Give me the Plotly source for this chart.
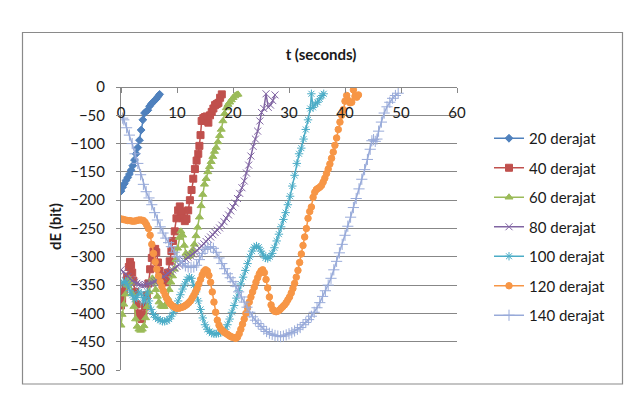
import plotly.graph_objects as go

# ---------------- data ----------------
t20 = [0, 0.3, 0.6, 0.9, 1.2, 1.5, 1.8, 2.1, 2.4, 2.7, 3.0, 3.3, 3.6, 3.9, 4.2, 4.5, 4.8, 5.1, 5.4, 5.7, 6.0, 6.3, 6.6, 6.9]
e20 = [-184, -177, -171, -165, -160, -154, -147, -139, -129, -118, -107, -94, -76, -58, -46, -43, -41, -34, -30, -27, -24, -21, -17, -13]

t40 = [0, 0.2, 0.5, 0.8, 1.1, 1.4, 1.6, 1.8, 2.0, 2.2, 2.5, 2.8, 3.1, 3.4, 3.7, 4.0, 4.3, 4.6, 4.9, 5.2, 5.5, 5.8,
       6.1, 6.3, 6.6, 6.9, 7.2, 7.5, 7.8, 8.1, 8.4, 8.7, 9.0, 9.3, 9.6, 9.9, 10.2, 10.5, 10.8, 11.1, 11.4, 11.7,
       12.0, 12.3, 12.6, 12.9, 13.2, 13.5, 13.8, 14.0, 14.2, 14.4, 14.7, 15.0, 15.3, 15.6, 15.9, 16.2, 16.5, 16.8,
       17.1, 17.4, 17.7, 18.0]
e40 = [-386, -375, -362, -350, -335, -318, -309, -315, -328, -342, -362, -384, -400, -407, -410, -402, -388, -368,
       -347, -322, -302, -290, -286, -292, -310, -325, -336, -342, -345, -342, -328, -308, -290, -272, -255, -232,
       -218, -211, -220, -232, -237, -233, -218, -200, -182, -162, -145, -130, -118, -104, -85, -60, -55, -53, -52,
       -63, -50, -44, -38, -32, -30, -28, -19, -13]

t60 = [0, 0.2, 0.5, 0.8, 1.1, 1.4, 1.7, 2.0, 2.3, 2.6, 2.9, 3.2, 3.5, 3.8, 4.1, 4.4, 4.7, 5.0, 5.3, 5.6, 5.9, 6.2,
       6.5, 6.8, 7.1, 7.4, 7.7, 8.0, 8.3, 8.6, 8.9, 9.2, 9.5, 9.8, 10.1, 10.4, 10.7, 11.0, 11.3, 11.6, 11.9, 12.2,
       12.5, 12.8, 13.1, 13.4, 13.7, 14.0, 14.3, 14.6, 14.9, 15.2, 15.5, 15.8, 16.1, 16.4, 16.7, 17.0, 17.3, 17.6,
       17.9, 18.2, 18.5, 18.8, 19.1, 19.4, 19.7, 20.0, 20.3, 20.6, 20.9]
e60 = [-421, -402, -384, -366, -350, -338, -345, -365, -388, -410, -423, -428, -430, -428, -422, -408, -388, -362,
       -345, -338, -345, -358, -370, -380, -386, -388, -388, -384, -372, -358, -345, -334, -322, -305, -285, -266,
       -255, -262, -280, -294, -300, -298, -294, -288, -278, -263, -248, -230, -210, -190, -172, -162, -150, -141,
       -132, -123, -114, -107, -97, -86, -75, -60, -47, -37, -31, -27, -23, -19, -16, -14, -13]

t80 = [0.0, 0.4, 0.8, 1.2, 1.6, 2.0, 2.4, 2.8, 3.2, 3.6, 4.0, 4.4, 4.8, 5.2, 5.6, 6.0, 6.4, 6.8, 7.2, 7.6, 8.0,
       8.4, 8.8, 9.2, 9.6, 10.0, 10.4, 10.8, 11.2, 11.6, 12.0, 12.4, 12.8, 13.2, 13.6, 14.0, 14.4, 14.8, 15.2,
       15.6, 16.0, 16.4, 16.8, 17.2, 17.6, 18.0, 18.4, 18.8, 19.2, 19.6, 20.0, 20.4, 20.8, 21.2, 21.6, 22.0, 22.4,
       22.8, 23.2, 23.6, 24.0, 24.4, 24.8, 25.1, 25.5, 25.9, 26.3, 26.7, 27.1, 27.5]
e80 = [-323, -327, -331, -335, -339, -342, -345, -347, -349, -350, -350, -349, -348, -347, -346, -344, -342, -340,
       -338, -335, -332, -329, -326, -323, -320, -317, -314, -311, -307, -304, -301, -298, -295, -292, -289, -285,
       -281, -277, -273, -269, -265, -261, -257, -253, -249, -244, -238, -232, -226, -219, -212, -205, -197, -188,
       -178, -166, -152, -138, -122, -105, -92, -78, -60, -45, -38, -12, -36, -32, -24, -14]

t100 = [0.0, 0.4, 0.8, 1.2, 1.6, 2.0, 2.4, 2.8, 3.2, 3.6, 4.0, 4.4, 4.7, 5.0, 5.4, 5.8, 6.2, 6.6, 7.0, 7.4, 7.8,
        8.2, 8.6, 9.0, 9.4, 9.8, 10.2, 10.6, 11.0, 11.4, 11.8, 12.2, 12.6, 13.0, 13.4, 13.8, 14.2, 14.6, 15.0,
        15.4, 15.8, 16.2, 16.6, 17.0, 17.4, 17.8, 18.2, 18.6, 19.0, 19.4, 19.8, 20.2, 20.6, 21.0, 21.4, 21.8,
        22.2, 22.6, 23.0, 23.4, 23.8, 24.2, 24.6, 25.0, 25.4, 25.8, 26.2, 26.6, 27.0, 27.4, 27.8, 28.2, 28.6,
        29.0, 29.4, 29.8, 30.2, 30.6, 31.0, 31.4, 31.8, 32.2, 32.6, 33.0, 33.4, 33.8, 34.0, 34.3, 34.7, 35.1,
        35.5, 35.9, 36.2]
e100 = [-347, -345, -343, -350, -360, -368, -375, -372, -362, -366, -380, -372, -362, -378, -393, -402, -407, -410,
        -412, -414, -414, -413, -410, -405, -398, -389, -378, -367, -357, -348, -340, -336, -338, -350, -362, -378,
        -393, -408, -420, -428, -432, -435, -436, -436, -435, -434, -432, -428, -420, -410, -398, -386, -373, -360,
        -348, -336, -324, -312, -300, -290, -283, -281, -283, -290, -297, -302, -303, -300, -294, -284, -272, -260,
        -247, -234, -222, -208, -193, -175, -156, -135, -118, -108, -92, -75, -58, -38, -12, -36, -30, -27, -21,
        -15, -12]

t120 = [0.0, 0.4, 0.8, 1.2, 1.6, 2.0, 2.4, 2.8, 3.2, 3.6, 4.0, 4.3, 4.6, 4.9, 5.2, 5.5, 5.8, 6.1, 6.4, 6.7, 7.0,
        7.3, 7.6, 7.9, 8.2, 8.5, 8.8, 9.1, 9.4, 9.7, 10.0, 10.3, 10.6, 10.9, 11.2, 11.5, 11.8, 12.1, 12.4, 12.7,
        13.0, 13.3, 13.6, 13.9, 14.2, 14.5, 14.8, 15.1, 15.4, 15.7, 16.0, 16.3, 16.6, 16.9, 17.2, 17.5, 17.8,
        18.1, 18.4, 18.7, 19.0, 19.3, 19.6, 19.9, 20.2, 20.5, 20.8, 21.1, 21.4, 21.7, 22.0, 22.3, 22.6, 22.9,
        23.2, 23.5, 23.8, 24.1, 24.4, 24.7, 25.0, 25.3, 25.6, 25.9, 26.2, 26.5, 26.8, 27.1, 27.4, 27.7, 28.0,
        28.3, 28.6, 28.9, 29.2, 29.5, 29.8, 30.1, 30.4, 30.7, 31.0, 31.3, 31.6, 31.9, 32.2, 32.5, 32.8, 33.1,
        33.4, 33.7, 34.0, 34.3, 34.6, 34.9, 35.2, 35.5, 35.8, 36.1, 36.4, 36.7, 37.0, 37.3, 37.6, 37.9, 38.2,
        38.5, 38.8, 39.1, 39.4, 39.7, 40.0, 40.3, 40.6, 40.9, 41.2, 41.5, 41.8, 42.1, 42.4]
e120 = [-233, -234, -235, -236, -236, -237, -237, -236, -235, -235, -236, -239, -244, -250, -262, -278, -294, -309,
        -322, -334, -344, -353, -361, -368, -374, -379, -383, -386, -388, -390, -391, -391, -390, -389, -388, -386,
        -384, -381, -378, -373, -368, -362, -356, -348, -340, -332, -326, -323, -325, -333, -345, -362, -380, -398,
        -412, -421, -427, -430, -433, -435, -437, -439, -441, -442, -443, -444, -442, -436, -428, -419, -410, -400,
        -390, -380, -371, -362, -354, -345, -337, -330, -325, -323, -328, -340, -355, -371, -385, -393, -396, -397,
        -396, -394, -391, -388, -385, -381, -376, -371, -364, -356, -347, -336, -324, -310, -295, -280, -265, -250,
        -232, -220, -212, -195, -186, -181, -179, -177, -174, -168, -161, -153, -145, -136, -126, -115, -103, -90,
        -75, -62, -50, -40, -25, -15, -24, -28, -27, -5, -16, -18, -14]

t140 = [0.3, 0.5, 1.0, 1.5, 2.0, 2.5, 3.0, 3.5, 4.0, 4.5, 5.0, 5.5, 6.0, 6.5, 7.0, 7.5, 8.0, 8.5, 9.0, 9.5, 10.0,
        10.5, 11.0, 11.5, 12.0, 12.5, 13.0, 13.5, 14.0, 14.5, 15.0, 15.5, 16.0, 16.5, 17.0, 17.5, 18.0, 18.5,
        19.0, 19.5, 20.0, 20.5, 21.0, 21.5, 22.0, 22.5, 23.0, 23.5, 24.0, 24.5, 25.0, 25.5, 26.0, 26.5, 27.0,
        27.5, 28.0, 28.5, 29.0, 29.5, 30.0, 30.5, 31.0, 31.5, 32.0, 32.5, 33.0, 33.5, 34.0, 34.5, 35.0, 35.5,
        36.0, 36.5, 37.0, 37.5, 38.0, 38.5, 39.0, 39.5, 40.0, 40.5, 41.0, 41.5, 42.0, 42.5, 43.0, 43.5, 44.0,
        44.5, 44.8, 45.1, 45.4, 45.7, 46.0, 46.5, 47.0, 47.5, 48.0, 48.5, 49.0, 49.5]
e140 = [-55, -58, -72, -85, -100, -118, -135, -155, -172, -185, -196, -208, -222, -235, -247, -258, -267, -275,
        -282, -292, -300, -307, -312, -316, -318, -319, -318, -315, -305, -294, -287, -283, -282, -285, -292, -302,
        -312, -321, -330, -337, -344, -352, -362, -371, -380, -389, -398, -406, -412, -418, -423, -428, -432, -435,
        -437, -439, -440, -441, -440, -438, -436, -434, -431, -428, -425, -420, -416, -411, -405, -398, -390, -381,
        -370, -360, -350, -338, -323, -308, -293, -278, -262, -246, -230, -213, -197, -180, -163, -146, -128, -110,
        -95, -93, -96, -92, -78, -62, -46, -35, -27, -20, -15, -11]

names = ["20 derajat", "40 derajat", "60 derajat", "80 derajat", "100 derajat", "120 derajat", "140 derajat"]
times = [t20, t40, t60, t80, t100, t120, t140]
values = [e20, e40, e60, e80, e100, e120, e140]

x_ticks = [0, 10, 20, 30, 40, 50, 60]
y_ticks = [0, -50, -100, -150, -200, -250, -300, -350, -400, -450, -500]

# ---------------- styles ----------------
colors = ["#4F81BD", "#C0504D", "#9BBB59", "#8064A2", "#4BACC6", "#F79646", "#98AAD9"]
symbols = ["diamond", "square", "triangle-up", "x-thin-open", "asterisk-open", "circle", "cross-thin-open"]
msizes = [6, 7, 7, 7, 7, 6.5, 8]

W, H = 640, 411
L, R, T, B = 121, 457, 87, 370          # plot-area pixel box
PW, PH = R - L, B - T


def px(xp):
    return (xp - L) / PW


def py(yp):
    return (B - yp) / PH


FONT = "Lato, Carlito, Calibri, sans-serif"
GRID = "#878787"
FS = 15

fig = go.Figure()
for i, (nm, tt, vv) in enumerate(zip(names, times, values)):
    fig.add_trace(go.Scatter(
        x=tt, y=vv, name=nm, mode="lines+markers", legendgroup=nm,
        line=dict(color=colors[i], width=1.5),
        marker=dict(symbol=symbols[i], size=msizes[i], color=colors[i],
                    line=dict(color=colors[i], width=1)),
    ))

fig.update_layout(
    width=W, height=H,
    margin=dict(l=L, r=W - R, t=T, b=H - B, pad=0),
    paper_bgcolor="white", plot_bgcolor="white",
    font=dict(family=FONT, size=FS, color="#1a1a1a"),
    title=dict(text="<b>t (seconds)</b>", x=321 / W, xanchor="center",
               y=1 - 55 / H, yanchor="middle", font=dict(size=FS)),
    showlegend=True,
    legend=dict(x=px(489), xanchor="left", y=py(122), yanchor="top",
                font=dict(size=FS), tracegroupgap=7, itemwidth=30,
                bgcolor="rgba(0,0,0,0)", borderwidth=0),
    xaxis=dict(range=[0, 60], tickvals=x_ticks, anchor="free", position=1, side="bottom",
               showline=True, linecolor=GRID, linewidth=1, ticks="outside", ticklen=5,
               tickcolor=GRID, showgrid=False, zeroline=False, ticklabelstandoff=7,
               tickfont=dict(size=FS)),
    yaxis=dict(range=[-500, 0], tickvals=y_ticks, showline=True, linecolor=GRID, linewidth=1,
               ticks="outside", ticklen=4, tickcolor=GRID, showgrid=True, gridcolor=GRID,
               gridwidth=1, zeroline=False, ticklabelstandoff=8, tickfont=dict(size=FS)),
    shapes=[dict(type="rect", xref="paper", yref="paper", x0=px(22.5), x1=px(622.5),
                 y0=py(384), y1=py(32.5), line=dict(color="#8a8a8a", width=1.2), layer="below")],
    annotations=[dict(text="<b>dE (bit)</b>", textangle=-90, xref="paper", yref="paper",
                      x=px(55), y=py(227), xanchor="center", yanchor="middle",
                      showarrow=False, font=dict(size=FS))],
)

fig.write_html("out.html")
